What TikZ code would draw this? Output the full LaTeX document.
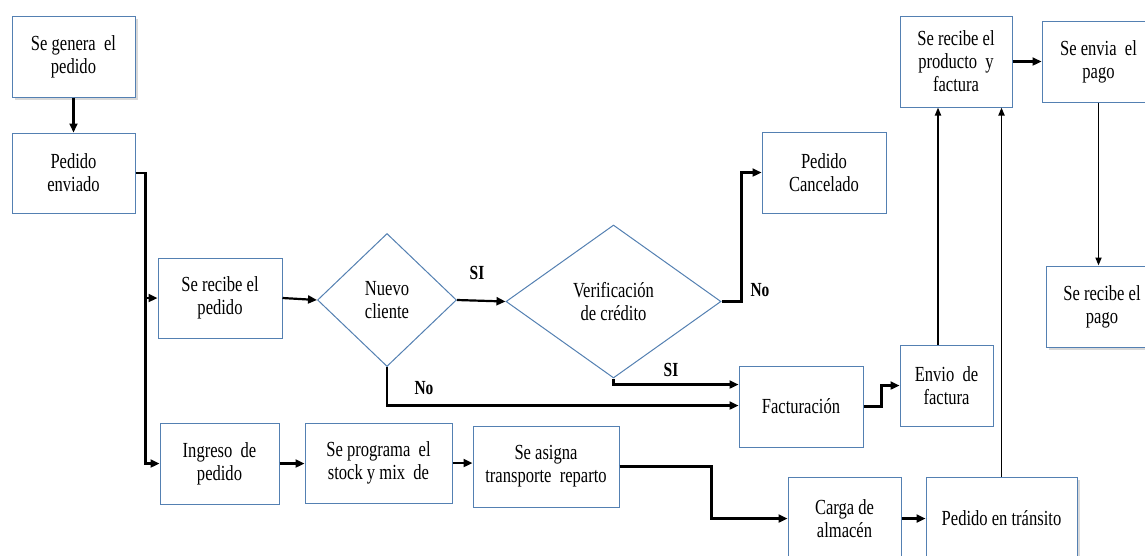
\documentclass[tikz,border=0pt]{standalone}
\usepackage{fontspec}
\setmainfont{Liberation Serif}
\newfontfamily\narrowserif[FakeStretch=0.77]{Liberation Serif}
\usetikzlibrary{shapes.geometric,arrows.meta,shadows,calc}
\definecolor{boxline}{RGB}{84,128,178}
\tikzset{
  box/.style={draw=boxline, line width=1pt, fill=white, align=center,
    inner sep=2pt, font=\narrowserif\fontsize{21.5}{23}\selectfont},
  decision/.style={diamond, draw=boxline, line width=1pt, fill=white,
    align=center, inner sep=0pt, font=\narrowserif\fontsize{21.5}{23}\selectfont},
  soft/.style={drop shadow={opacity=0.3, shadow xshift=3pt, shadow yshift=-3pt}},
  arr/.style={draw=black, line width=2.2pt, -{Triangle[length=9pt,width=8pt]}},
  thinarr/.style={draw=black, line width=1.7pt, -{Triangle[length=8pt,width=6pt]}},
  tag/.style={font=\narrowserif\bfseries\fontsize{20}{22}\selectfont}
}
\begin{document}
\begin{tikzpicture}[x=1pt, y=-1pt]
\useasboundingbox (0,0) rectangle (1145,555);
\clip (0,0) rectangle (1145,555);

% process boxes
\node[box, soft, minimum width=123pt, minimum height=81pt] (gen) at (73.5,56.5) {Se genera\ \ el\\pedido};
\node[box, minimum width=123pt, minimum height=80pt] (env) at (73.5,173) {Pedido\\enviado};
\node[box, minimum width=124pt, minimum height=80pt] (rec) at (220,298) {Se recibe el\\pedido};
\node[box, minimum width=119pt, minimum height=81pt] (ing) at (219.5,463.5) {Ingreso\ \ de\\pedido};
\node[box, minimum width=147pt, minimum height=80pt] (prog) at (378.5,463) {Se programa\ \ el\\stock y mix\ \ de};
\node[box, minimum width=146pt, minimum height=81pt] (asig) at (546,466.5) {Se asigna\\transporte\ \ reparto};
\node[box, minimum width=124pt, minimum height=81pt] (canc) at (824,172.5) {Pedido\\Cancelado};
\node[box, minimum width=124pt, minimum height=81pt] (fac) at (801,406.5) {Facturación};
\node[box, minimum width=93pt, minimum height=81pt] (envf) at (946.5,385.5) {Envio\ \ de\\factura};
\node[box, minimum width=112pt, minimum height=91pt] (prod) at (956,61.5) {Se recibe el\\producto\ \ y\\factura};
\node[box, minimum width=113pt, minimum height=81pt] (envp) at (1098.5,61.5) {Se envia\ \ el\\pago};
\node[box, soft, minimum width=112pt, minimum height=81pt] (recp) at (1102,306.5) {Se recibe el\\pago};
\node[box, minimum width=113pt, minimum height=83pt] (carga) at (844.5,518.5) {Carga de\\almacén};
\node[box, soft, minimum width=151pt, minimum height=83pt] (tr) at (1001.5,518.5) {Pedido en tránsito};

% decisions
\node[decision, minimum width=139pt, minimum height=133pt] (nc) at (387,300) {Nuevo\\cliente};
\node[decision, minimum width=215pt, minimum height=153pt] (vc) at (613.5,301.5) {Verificación\\de crédito};

% connectors
\draw[arr] (gen.south) -- (env.north);
\draw[arr] (env.east) -- ++(10,0) |- (rec.west);
\draw[arr] (env.east) -- ++(10,0) |- (ing.west);
\draw[arr] (rec.east) -- (nc.west);
\draw[arr] (nc.east) -- (vc.west);
\draw[arr] (nc.south) |- ($(fac.west)+(0,-1)$);
\draw[arr] (vc.east) -- ++(20,0) |- (canc.west);
\draw[arr] (vc.south) |- ($(fac.west)+(0,-22)$);
\draw[arr] (fac.east) -- ++(18,0) |- (envf.west);
\draw[thinarr] ([xshift=-8.5pt]envf.north) -- ([xshift=-8.5pt]envf.north |- prod.south);
\draw[thinarr] (tr.north) -- (tr.north |- prod.south);
\draw[arr] (prod.east) -- (envp.west);
\draw[thinarr] (envp.south) -- (envp.south |- recp.north);
\draw[arr] (ing.east) -- (ing.east -| prog.west);
\draw[arr] (prog.east) -- (prog.east -| asig.west);
\draw[arr] (asig.east) -- ++(92,0) |- (carga.west);
\draw[arr] (carga.east) -- (tr.west);

% branch labels
\node[tag] (si1) at (477,273) {SI};
\node[tag] (no1) at (424,388) {No};
\node[tag] (no2) at (760,290) {No};
\node[tag] (si2) at (671,370) {SI};
\end{tikzpicture}
\end{document}
